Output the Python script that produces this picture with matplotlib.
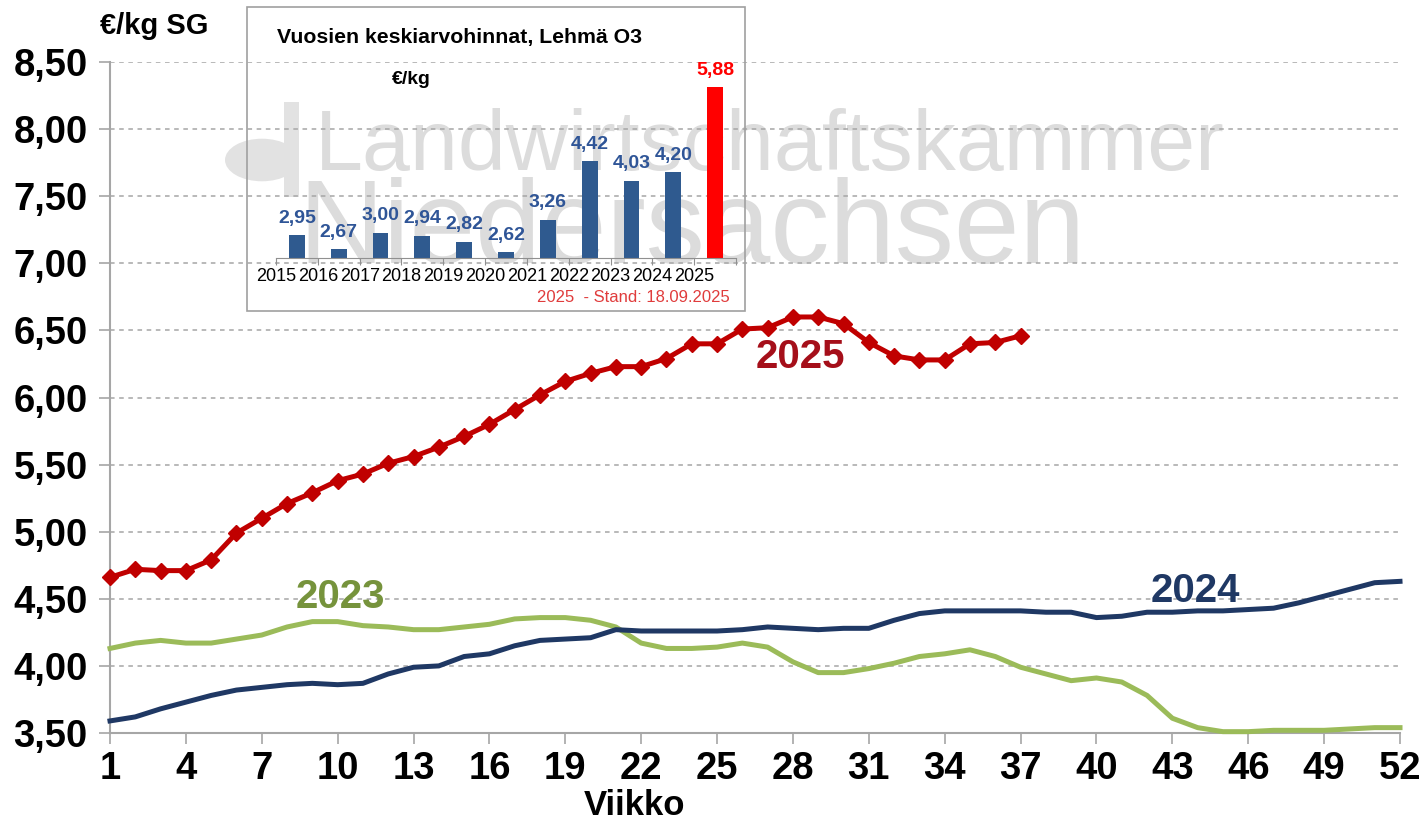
import matplotlib
matplotlib.use("Agg")
import matplotlib.pyplot as plt
from matplotlib.patches import Rectangle, Circle

plt.rcParams['font.family'] = ['Liberation Sans', 'DejaVu Sans']

# ==========================
# Data
# ==========================
weeks = list(range(1, 53))

price_2023 = [4.13, 4.17, 4.19, 4.17, 4.17, 4.20, 4.23, 4.29, 4.33, 4.33,
              4.30, 4.29, 4.27, 4.27, 4.29, 4.31, 4.35, 4.36, 4.36, 4.34,
              4.29, 4.17, 4.13, 4.13, 4.14, 4.17, 4.14, 4.03, 3.95, 3.95,
              3.98, 4.02, 4.07, 4.09, 4.12, 4.07, 3.99, 3.94, 3.89, 3.91,
              3.88, 3.78, 3.61, 3.54, 3.51, 3.51, 3.52, 3.52, 3.52, 3.53,
              3.54, 3.54]

price_2024 = [3.59, 3.62, 3.68, 3.73, 3.78, 3.82, 3.84, 3.86, 3.87, 3.86,
              3.87, 3.94, 3.99, 4.00, 4.07, 4.09, 4.15, 4.19, 4.20, 4.21,
              4.27, 4.26, 4.26, 4.26, 4.26, 4.27, 4.29, 4.28, 4.27, 4.28,
              4.28, 4.34, 4.39, 4.41, 4.41, 4.41, 4.41, 4.40, 4.40, 4.36,
              4.37, 4.40, 4.40, 4.41, 4.41, 4.42, 4.43, 4.47, 4.52, 4.57,
              4.62, 4.63]

weeks_2025 = list(range(1, 38))
price_2025 = [4.66, 4.72, 4.71, 4.71, 4.79, 4.99, 5.10, 5.21, 5.29, 5.38,
              5.43, 5.51, 5.56, 5.63, 5.71, 5.80, 5.91, 6.02, 6.12, 6.18,
              6.23, 6.23, 6.29, 6.40, 6.40, 6.51, 6.52, 6.60, 6.60, 6.55,
              6.41, 6.31, 6.28, 6.28, 6.40, 6.41, 6.46]

years = ['2015', '2016', '2017', '2018', '2019', '2020', '2021', '2022', '2023', '2024', '2025']
year_avg = [2.95, 2.67, 3.00, 2.94, 2.82, 2.62, 3.26, 4.42, 4.03, 4.20, 5.88]

x_ticks = list(range(1, 53, 3))
y_ticks = [3.5, 4.0, 4.5, 5.0, 5.5, 6.0, 6.5, 7.0, 7.5, 8.0, 8.5]

# ==========================
# Colours
# ==========================
c2023 = '#9BBB59'
c2024 = '#1F3864'
c2025 = '#C00000'
bar_blue = '#2F5A8F'
grid_grey = '#A6A6A6'
wm_grey = '#DCDCDC'

W, H = 1427, 821
fig = plt.figure(figsize=(W / 100, H / 100), dpi=100)

# watermark (behind everything)
fig.text(315 / W, 1 - 148 / H, 'Landwirtschaftskammer', fontsize=62, color=wm_grey,
         ha='left', va='center', zorder=0)
fig.text(298 / W, 1 - 232 / H, 'Niedersachsen', fontsize=85, color=wm_grey,
         ha='left', va='center', zorder=0)
fig.patches.append(Circle((262 / W, 1 - 160 / H), 37 / W, transform=fig.transFigure,
                          facecolor='#E2E2E2', edgecolor='none', zorder=0))
fig.patches.append(Rectangle((284 / W, 1 - 197 / H), 15 / W, 95 / H, transform=fig.transFigure,
                             facecolor='#E2E2E2', edgecolor='none', zorder=0))

# ==========================
# Main chart
# ==========================
ax = fig.add_axes([110 / W, 1 - 733 / H, 1290 / W, 671 / H])
ax.set_zorder(1)
ax.patch.set_alpha(0)

ax.plot(weeks, price_2023, color=c2023, lw=3.6, zorder=3, clip_on=False)
ax.plot(weeks, price_2024, color=c2024, lw=3.6, zorder=3, clip_on=False)
ax.plot(weeks_2025, price_2025, color=c2025, lw=3.6, marker='D', markersize=8,
        zorder=4, clip_on=False)

ax.set_xlim(1, 52)
ax.set_ylim(3.5, 8.5)
ax.set_xticks(x_ticks)
ax.set_yticks(y_ticks)
ax.set_yticklabels([f'{v:.2f}'.replace('.', ',') for v in y_ticks])
ax.tick_params(axis='both', labelsize=27.5, length=8, color=grid_grey, width=1.2)
ax.tick_params(axis='y', pad=8)
ax.tick_params(axis='x', pad=5)
for lbl in ax.get_xticklabels() + ax.get_yticklabels():
    lbl.set_fontweight('bold')

ax.yaxis.grid(True, linestyle=(0, (3, 3)), color=grid_grey, lw=1.1)
ax.set_axisbelow(True)
for s in ['top', 'right']:
    ax.spines[s].set_visible(False)
for s in ['left', 'bottom']:
    ax.spines[s].set_color(grid_grey)
    ax.spines[s].set_linewidth(1.5)

narrow = ['Liberation Sans Narrow', 'Liberation Sans', 'DejaVu Sans']
ax.text(28.3, 6.30, '2025', color='#A50F1A', fontsize=29, fontweight='bold',
        family=narrow, ha='center', va='center', zorder=5)
ax.text(10.1, 4.51, '2023', color='#76933C', fontsize=29, fontweight='bold',
        family=narrow, ha='center', va='center', zorder=5)
ax.text(43.9, 4.56, '2024', color=c2024, fontsize=29, fontweight='bold',
        family=narrow, ha='center', va='center', zorder=5)

fig.text(100 / W, 1 - 26 / H, '€/kg SG', fontsize=21, fontweight='bold',
         ha='left', va='center')
fig.text(635 / W, 1 - 805 / H, 'Viikko', fontsize=25, fontweight='bold',
         ha='center', va='center')

# ==========================
# Inset: yearly averages
# ==========================
fig.patches.append(Rectangle((247 / W, 1 - 311 / H), 498 / W, 304 / H,
                             transform=fig.transFigure, facecolor='none',
                             edgecolor='#A0A0A0', lw=1.2, zorder=6))

ins = fig.add_axes([276 / W, 1 - 258 / H, 460 / W, 187 / H])
ins.set_zorder(2)
ins.patch.set_alpha(0)
pos = list(range(len(years)))
bar_colors = [bar_blue] * (len(years) - 1) + ['#FF0000']
ins.bar(pos, year_avg, width=0.38, color=bar_colors, bottom=0)
ins.set_xlim(-0.5, len(years) - 0.5)
ins.set_ylim(2.5, 6.2)
for p, v, c in zip(pos, year_avg, bar_colors):
    ins.annotate(f'{v:.2f}'.replace('.', ','), (p, v), xytext=(0, 6),
                 textcoords='offset points', ha='center', va='bottom',
                 fontsize=14, fontweight='bold', color=c if c == '#FF0000' else '#2F5597')

ins.set_xticks([p - 0.5 for p in pos] + [len(years) - 0.5])
ins.set_xticklabels(years + [''])
ins.tick_params(axis='x', labelsize=13, length=5, color='#909090', pad=2)
ins.set_yticks([])
for s in ['top', 'right', 'left']:
    ins.spines[s].set_visible(False)
ins.spines['bottom'].set_color('#909090')

fig.text(277 / W, 1 - 37 / H, 'Vuosien keskiarvohinnat, Lehmä O3', fontsize=15.3,
         fontweight='bold', ha='left', va='center')
fig.text(392 / W, 1 - 80 / H, '€/kg', fontsize=14, fontweight='bold',
         ha='left', va='center')
fig.text(730 / W, 1 - 298 / H, '2025  - Stand: 18.09.2025', fontsize=12,
         color='#E03C3C', ha='right', va='center')

fig.savefig('out.png', dpi=100)
